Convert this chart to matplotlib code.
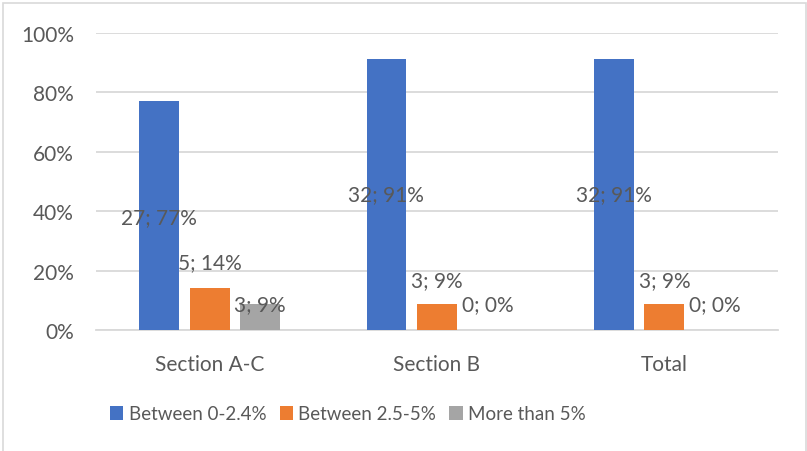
import matplotlib.pyplot as plt
import numpy as np
from matplotlib.patches import Rectangle
from matplotlib.ticker import PercentFormatter

# data
categories = ['Section A-C', 'Section B', 'Total']
series = ['Between 0-2.4%', 'Between 2.5-5%', 'More than 5%']
counts = [
    [27, 32, 32],   # Between 0-2.4%
    [5, 3, 3],      # Between 2.5-5%
    [3, 0, 0],      # More than 5%
]
percents = [
    [0.771, 0.914, 0.914],
    [0.143, 0.086, 0.086],
    [0.086, 0.0, 0.0],
]
pct_labels = [
    ['77%', '91%', '91%'],
    ['14%', '9%', '9%'],
    ['9%', '0%', '0%'],
]
# where the data labels sit (hand placed in the original)
label_y = [
    [0.380, 0.458, 0.458],
    [0.229, 0.168, 0.168],
    [0.088, 0.088, 0.088],
]

colors = ['#4472C4', '#ED7D31', '#A5A5A5']
txt = '#595959'
grid_c = '#D9D9D9'

plt.rcParams['font.family'] = ['Lato', 'DejaVu Sans']

fig = plt.figure(figsize=(8.07, 4.52), dpi=100)
ax = fig.add_axes([96 / 807, 1 - 331 / 452, (778 - 96) / 807, (331 - 34) / 452])

x = np.arange(len(categories))
width = 0.175
step = 0.2226
for i, name in enumerate(series):
    pos = x + (i - 1) * step
    ax.bar(pos, percents[i], width, color=colors[i], label=name, zorder=3)
    for j in range(len(categories)):
        ax.text(pos[j], label_y[i][j], f'{counts[i][j]}; {pct_labels[i][j]}',
                ha='center', va='center', fontsize=15, color=txt, zorder=4)

ax.set_xlim(-0.5, len(categories) - 0.5)
ax.set_ylim(0, 1)
ax.set_yticks(np.arange(0, 1.01, 0.2))
ax.yaxis.set_major_formatter(PercentFormatter(1.0, decimals=0))
ax.set_xticks(x)
ax.set_xticklabels(categories)
ax.tick_params(axis='both', length=0, labelsize=15, colors=txt)
ax.tick_params(axis='y', pad=16)
ax.tick_params(axis='x', pad=17)
ax.grid(axis='y', color=grid_c, linewidth=1.3, zorder=0)
for s in ['top', 'right', 'left']:
    ax.spines[s].set_visible(False)
ax.spines['bottom'].set_color(grid_c)
ax.spines['bottom'].set_linewidth(1.3)

leg = fig.legend(loc='center', bbox_to_anchor=(348 / 807, 1 - 415 / 452), ncol=3,
                 frameon=False, fontsize=13.5, handlelength=0.7, handleheight=0.7,
                 handletextpad=0.3, columnspacing=0.7)
for t in leg.get_texts():
    t.set_color(txt)

# chart border
fig.patches.append(Rectangle((3 / 807, -0.05), (806 - 3) / 807, 1.05 - 4 / 452,
                             transform=fig.transFigure, fill=False,
                             edgecolor='#D9D9D9', linewidth=1.2))

fig.savefig('out.png', dpi=100)
